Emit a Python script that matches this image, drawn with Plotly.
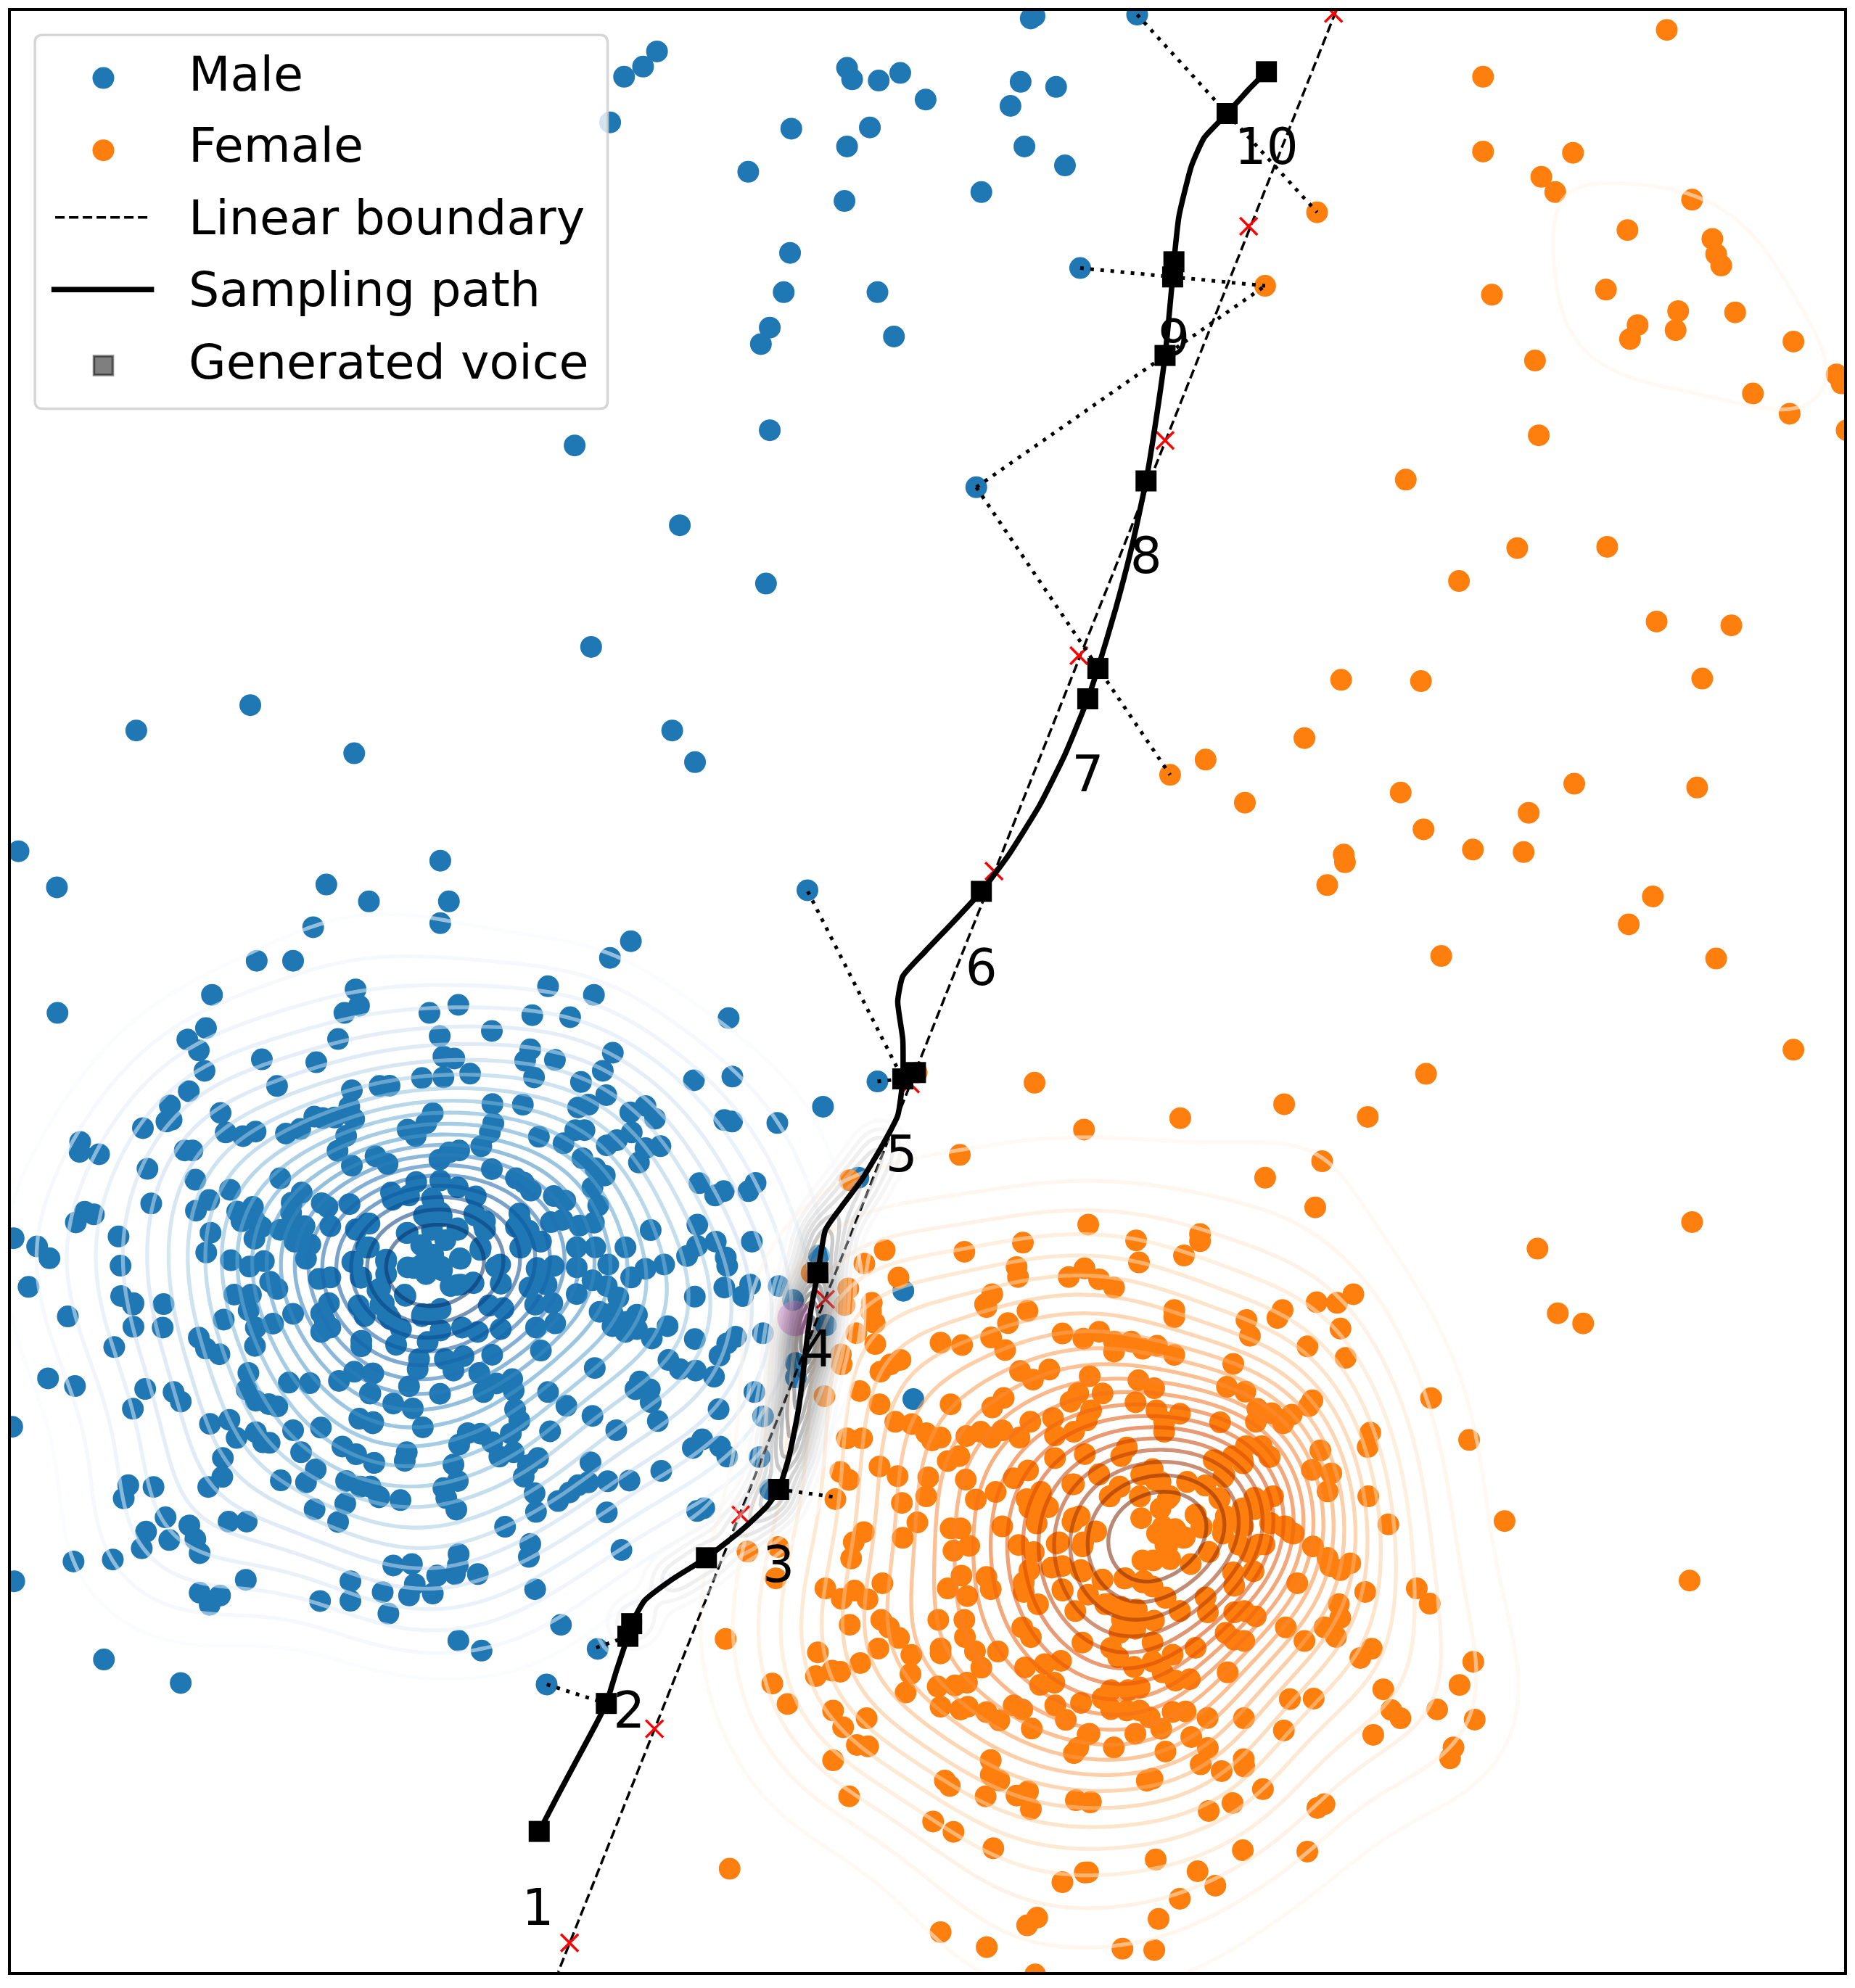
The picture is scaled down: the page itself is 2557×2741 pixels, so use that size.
import numpy as np
import plotly.graph_objects as go

# values, the axes have no ticks so the unit is arbitrary
# regions hold (x, y) as read from an enlarged crop, to_units() brings them together
male_a = [(62,59),(196,185),(1136,175),(1090,324),(893,441),(1020,441),(737,560),(198,623),(1238,541),(1250,598),(1199,623),(716,676),(651,716),(691,754),(711,825),(911,785),(1177,714),(1101,795),(964,878),(656,896),(590,946),(596,996),(578,1002),(496,1025),(767,972),(785,1040),(845,1053),(889,1037),(995,1044),(1045,1028),(1094,985),(1123,990),(1165,988),(1216,950),(1225,893),(1233,993),(1205,1052),(1175,1104),(1225,1156),(277,1073),(275,1108),(343,1116),(642,1103),(669,1103),(512,1167),(679,1205),(800,1240),(975,1200),(1050,1250),(1015,1285),(1013,1320),(1120,1287),(1140,1300),(1217,1290),(727,1276),(681,1313),(525,1288),(293,1317),(325,1326),(262,1354),(825,1316),(880,1300),(840,1350),(885,1345),(910,1370),(732,1390),(975,1380),(1010,1365),(1060,1367),(1150,1367),(1240,1380)]
male_b = [(269,92),(20,234),(299,234),(269,310),(934,373),(861,431),(645,530),(805,560),(1275,641),(231,623),(332,595),(590,631),(722,638),(449,686),(267,704),(583,750),(565,790),(669,787),(871,762),(836,825),(280,775),(318,782),(760,864),(373,835),(280,848),(205,850),(596,848),(57,878),(92,877),(1154,858),(1288,845),(848,910),(786,943),(750,953),(451,941),(557,943),(985,948),(932,970),(1018,992),(1260,997),(1287,1002),(1445,1007),(243,973),(220,1008),(155,1030),(183,1053),(454,1008),(442,1040),(412,1088),(613,1055),(740,1032),(772,1032),(699,1078),(937,1040),(885,1067),(850,1085),(1037,1088),(985,1095),(962,1145),(335,1103),(300,1110),(266,1135),(43,1123),(85,1150),(449,1168),(765,1130),(810,1165),(843,1190),(800,1232),(533,1200),(560,1215),(585,1243),(1173,1217),(1369,1216),(1258,1245),(1228,1260),(1344,1245),(665,1262),(705,1278),(820,1295),(185,1213),(269,1208),(330,1232),(393,1263),(97,1250),(160,1260),(103,1275),(240,1270),(240,1320),(212,1330),(270,1320),(390,1330),(425,1350),(425,1380),(22,1358),(545,1323),(655,1353),(695,1345),(755,1365),(805,1355),(533,1370),(1166,1362),(1003,1381),(330,1380),(240,1380),(155,1390),(1550,195)]
male_c = [(45,18),(127,47),(170,88),(97,188),(411,12),(418,114),(717,68),(803,95),(868,117),(918,98),(885,20),(1065,90),(1080,40),(1025,30),(1110,160),(1150,155),(1228,100),(1275,50),(1258,155),(940,170),(965,195),(815,215),(873,215),(865,270),(778,302),(420,220),(463,245),(461,250),(568,248),(463,327),(565,330),(234,291),(396,398),(691,365),(716,403),(763,423),(890,330),(950,316),(1020,282),(887,394),(1145,245),(1118,280),(1130,305),(1150,330),(1118,345),(1248,253),(1270,290),(1258,376),(1258,395),(165,507),(259,534),(504,544),(603,555),(628,588),(461,613),(864,488),(858,546),(890,585),(935,597),(965,605),(1005,522),(1078,524),(1180,516),(1233,484),(1297,490),(1288,560),(730,666),(798,652),(823,715),(890,695),(938,732),(915,730),(1020,688),(1117,679),(1251,648),(1298,664),(1192,745),(1240,772),(1303,802),(775,785),(1048,765),(773,851),(1099,825),(724,886),(977,863),(1065,870),(1205,865),(1255,885),(1290,885),(1320,922),(445,880),(533,886),(429,926),(1095,964),(1202,944),(1177,1008),(575,992),(658,1020),(795,1007),(858,1007),(507,1042),(679,1068),(588,1071),(492,1100),(694,1117),(254,1146),(391,1139),(855,1210),(694,1255),(765,1265),(729,1297),(1220,1215),(1114,1284),(1220,1283),(47,1215),(360,1488),(628,1570),(40,676)]
male_d = [(20,50),(80,100),(155,120),(205,110),(235,85),(275,130),(340,90),(340,180),(385,175),(305,185),(145,215),(410,50),(478,110),(480,175),(440,253),(488,262),(235,283),(270,265),(205,290),(270,340),(345,330),(400,345),(480,335),(450,425),(132,335),(115,390),(50,200),(60,250),(95,300),(550,50),(620,30),(605,125),(665,115),(640,180),(580,190),(745,50),(810,50),(745,120),(800,165),(850,185),(745,213),(890,225),(855,110),(935,155),(985,125),(1050,110),(915,50),(1130,80),(1165,45),(1230,30),(1356,30),(1265,85),(1270,115),(1260,190),(1325,220),(1350,180),(1157,222),(1450,185),(600,250),(660,245),(670,315),(603,330),(620,410),(825,275),(870,280),(955,285),(920,310),(870,325),(915,345),(955,335),(1007,368),(1062,325),(1157,370),(1300,362),(1270,385),(1243,428),(1395,350),(225,380),(195,440),(285,440),(350,430),(405,488),(315,480),(190,475),(160,535),(465,525),(520,510),(525,550),(420,555),(35,490),(25,560),(268,561),(105,595),(173,612),(530,615),(545,655),(645,555),(709,603),(800,638),(808,471),(1065,443),(1105,475),(1160,480),(1224,501),(965,518),(950,545),(1000,545),(1003,590),(1028,656),(883,688),(652,692),(1240,615),(1365,555),(1395,640),(35,660),(208,678),(365,698),(335,738),(410,700),(450,730),(515,700),(475,780),(525,765),(610,785),(575,810),(560,850),(152,765),(145,795),(38,802),(315,808),(1150,750),(1183,720),(1245,745),(1270,780),(1383,782),(793,800),(330,865),(280,890),(290,925),(325,965),(598,908),(603,973),(680,935),(720,905),(750,880),(785,870),(853,866),(929,864),(1040,830),(25,885),(55,920),(130,932),(850,975),(1165,970),(1190,960),(495,1025),(583,1085),(578,1130),(901,1106),(105,1160),(170,1155),(180,1225),(258,1195),(333,1120),(330,1160),(320,1190),(400,1190),(68,1253),(160,1265),(243,1258),(600,1243),(88,1328),(690,1367),(332,1422),(413,1457),(818,1451),(640,1575),(1420,895)]
male_e = [(325,205),(235,360),(350,448),(245,580),(245,630),(620,328),(655,706)]
male_core = [(590,290),(590,340),(555,350),(625,350),(480,420),(690,400),(640,450),(540,470),(590,510),(625,560),(560,590),(510,565),(700,525),(690,635),(755,625),(785,490),(850,560),(870,630),(395,530),(395,590),(370,650),(385,710),(400,755),(475,680),(545,755),(620,735),(820,720),(880,735),(760,340),(800,390),(315,480),(255,540),(290,605),(950,370),(985,410),(1035,455),(950,480),(1020,565),(320,380),(270,405)]
male_upper = [(816,12),(813,14),(897,11),(518,40),(507,52),(492,60),(668,53),(672,62),(693,63),(710,57),(730,78),(805,64),(833,68),(797,83),(481,96),(624,101),(686,100),(668,115),(808,115),(840,130),(590,135),(774,151),(666,158),(623,199),(852,211),(618,230),(692,230),(607,258),(600,271),(705,265),(607,339),(453,351),(770,384),(536,414),(604,460),(466,510),(197,556),(107,576),(279,594),(530,576),(548,601),(692,853),(649,873),(677,929)]

female_a = [(555,186),(484,233),(603,282),(833,192),(428,320),(415,378),(510,370),(507,400),(520,440),(456,476),(522,514),(402,550),(405,585),(750,509),(825,517),(610,569),(575,585),(540,610),(468,678),(345,696),(537,724),(785,724),(592,785),(650,793),(700,825),(720,850),(750,840),(423,843),(476,843),(840,835),(815,905),(775,922),(537,941),(600,975),(707,979),(400,960),(430,988),(838,987),(873,1056),(700,1045),(615,1068),(383,1055),(669,1136),(618,1190),(482,1170),(447,1205),(438,1262),(785,1157),(820,1157),(850,1218),(795,1235),(76,1238),(183,1222),(300,265)]
female_b = [(380,97),(1172,37),(152,160),(547,152),(770,130),(770,155),(714,205),(557,229),(130,245),(135,280),(367,250),(312,280),(418,288),(470,317),(45,340),(20,375),(25,385),(168,398),(680,395),(680,420),(1305,340),(1248,370),(1177,368),(1058,395),(1040,423),(932,430),(944,485),(1260,460),(1145,522),(1278,562),(100,441),(41,491),(90,535),(290,477),(363,495),(418,471),(470,505),(530,505),(570,530),(620,520),(470,540),(680,552),(886,583),(142,608),(187,638),(244,603),(385,626),(555,640),(610,668),(864,663),(928,680),(430,686),(345,685),(318,715),(45,735),(85,702),(545,717),(618,745),(700,757),(645,785),(645,820),(257,772),(390,745),(375,780),(178,785),(1162,710),(1150,730),(970,740),(1020,755),(1090,760),(1060,790),(965,785),(840,787),(5,820),(40,840),(80,815),(140,840),(264,833),(330,820),(1364,823),(1355,873),(1190,885),(515,875),(495,905),(264,912),(368,898),(985,870),(930,870),(885,905),(822,920),(920,930),(1013,908),(1160,953),(1228,965),(1215,1028),(855,970),(605,950),(575,968),(725,995),(788,1007),(120,982),(170,955),(330,1003),(418,968),(490,1012),(455,1045),(615,990),(560,1045),(838,1052),(57,1030),(215,1030),(165,1055),(175,1085),(240,1083),(960,1050),(1025,1045),(1357,1045),(665,1045),(350,1115),(325,1135),(408,1168),(80,1150),(200,1140),(755,1110),(860,1115),(850,1175),(775,1155),(1015,1140),(1068,1150),(1097,1175),(1427,1143),(640,1150),(690,1170),(660,1190),(620,1175),(712,1190),(655,1220),(960,1090),(920,1150),(940,1240),(995,1213),(1164,1220),(137,1215),(270,1210),(190,1240),(360,1220),(1215,1260)]
female_c = [(175,70),(348,107),(405,145),(450,115),(495,147),(547,88),(775,107),(823,60),(843,135),(910,65),(925,110),(1040,85),(1040,120),(1090,165),(1060,40),(1175,110),(1245,45),(1220,190),(1175,25),(433,240),(543,222),(570,250),(605,288),(533,327),(742,222),(833,222),(835,285),(870,337),(1035,250),(1065,285),(1245,305),(750,327),(750,345),(950,338),(322,341),(470,380),(648,350),(892,397),(1045,396),(1113,384),(1170,372),(0,292),(315,428),(372,408),(400,412),(645,420),(1097,460),(1147,452),(163,455),(628,488),(740,466),(800,462),(842,452),(216,530),(750,540),(820,550),(845,540),(910,560),(955,590),(1005,535),(1035,550),(1150,535),(1240,526),(1187,588),(375,554),(492,582),(410,615),(1068,620),(458,680),(497,685),(1263,642),(1230,690),(1215,710),(375,736),(925,735),(925,790),(955,810),(765,810),(782,830),(907,868),(1015,865),(1055,850),(1065,915),(431,868),(1222,882),(1272,890),(724,960),(795,998),(934,1058),(1175,1182),(1253,1147),(14,1133),(750,1365),(911,1420),(1052,1340),(1087,1312),(1080,1520)]
female_d = [(50,75),(130,70),(190,85),(225,100),(0,130),(270,140),(320,190),(60,165),(115,175),(170,185),(410,140),(418,195),(510,195),(545,190),(585,210),(690,250),(755,300),(230,225),(120,255),(110,270),(165,255),(875,165),(880,215),(825,250),(865,285),(480,270),(510,295),(545,300),(730,88),(967,120),(880,40),(915,15),(845,25),(225,305),(80,325),(105,360),(160,395),(225,375),(295,350),(375,325),(260,415),(305,445),(355,440),(990,328),(950,362),(1147,107),(1192,163),(487,415),(80,480),(140,480),(180,470),(50,510),(80,550),(135,555),(180,555),(215,580),(295,560),(340,558),(704,513),(787,511),(1030,477),(1058,553),(1090,583),(1218,551),(1296,461),(1344,376),(1349,588),(417,582),(544,583),(683,628),(995,644),(5,640),(165,640),(255,622),(360,652),(418,692),(1275,690),(1263,730),(90,690),(270,705),(393,752),(466,777),(543,733),(545,760),(225,805),(205,812),(610,843),(825,898),(800,912),(10,890),(504,894),(421,923),(540,1067),(765,1072),(236,1101),(0,1148),(382,1144),(444,1197),(320,1245),(246,1319),(120,1428),(231,1433)]
female_core = [(625,385),(660,385),(620,450),(700,420),(640,510),(570,515),(525,515),(725,530),(520,340),(600,300),(630,260),(515,250),(745,325),(770,375),(800,480),(860,370),(940,300),(925,450),(985,560),(905,620),(900,565),(360,595),(450,590),(530,600),(620,670),(680,725),(385,695),(440,760),(500,730),(270,555),(195,640),(150,545),(1005,450),(1110,375),(1055,360),(1140,400),(1020,285),(995,260),(845,260),(785,205),(710,190),(565,155),(520,160),(600,190),(430,210),(390,250),(345,160),(235,200),(240,340),(330,395),(280,440),(180,440),(820,100),(860,170),(940,100),(1050,85)]
female_upper = [(1315,23),(1170,60),(1170,119),(1241,120),(1216,139),(1227,151),(1039,167),(1335,157),(1284,181),(1351,188),(1354,200),(1358,209),(998,225),(1177,232),(1267,228),(1324,245),(1369,246),(1292,256),(1322,260),(1286,267),(1415,269),(1211,284),(1449,295),(1453,302),(1383,310),(1412,326),(1214,343),(1457,339),(1109,378),(1197,432),(1268,431),(1151,458),(1307,490),(1366,493),(1058,536),(1121,537),(1343,535),(1029,582),(951,599),(923,611),(982,633),(1105,625),(1242,618),(1339,621),(1206,641),(1123,654),(1162,670),(1202,672),(1060,674),(1061,680),(1047,698),(1304,707),(1285,729),(1137,754),(1354,756),(1415,828),(1125,847),(723,846),(816,854),(1013,871),(931,882),(1079,881),(855,891),(1043,916),(757,911),(998,929),(670,931),(1335,964),(1213,985),(1229,1036),(1249,1044),(1129,1103),(1159,1136),(1187,1200),(1333,1247)]

path_x = [425,440,455,470,478,486,495,498,508,530,557,585,605,614,622,630,636,640,645,651,665,680,695,708,712,712,708,712,730,752,774,795,820,840,858,866,880,893,904,912,919,925,926,930,940,950,968,985,999]
path_y = [1445,1416,1388,1360,1344,1318,1291,1281,1263,1246,1229,1207,1188,1175,1150,1110,1060,1030,1004,970,950,930,905,880,851,820,790,770,750,727,703,675,635,595,551,527,480,430,379,330,280,218,206,170,130,108,89,70,56]
voice_x = [425,478,495,498,557,614,645,712,722,774,858,866,904,919,925,926,968,999]
voice_y = [1445,1344,1291,1281,1229,1175,1004,851,846,703,551,527,379,280,218,206,89,56]
step_labels = ["1","2","3","4","5","6","7","8","9","10"]
step_x = [424,496,614,645,711,774,858,904,926,999]
step_y = [1509,1353,1238,1068,914,767,614,442,270,119]
boundary_x = [1054,440]
boundary_y = [8,1556]
cross_x = [1052,985,919,851,784,718,651,584,516,449]
cross_y = [10,178,347,517,687,855,1025,1195,1364,1533]
neighbour_x = [897,968,None,968,1039,None,852,925,998,None,770,919,998,None,770,866,923,None,637,712,None,692,712,None,614,658,None,431,478,None,470,495]
neighbour_y = [11,89,None,89,167,None,211,218,225,None,384,280,225,None,384,527,611,None,703,851,None,853,851,None,1175,1181,None,1329,1344,None,1300,1291]
sample_x = [500,530,557,585,605,614,620,622,626,628,630,632,634,636,637,639,640,642,645,648,651,665,680,695]
sample_y = [1280,1246,1229,1207,1188,1175,1150,1140,1120,1110,1095,1080,1070,1060,1050,1040,1030,1018,1004,985,970,950,930,905]
source_x = [627]
source_y = [1040]
legend_names = ["Male","Female","Linear boundary","Sampling path","Generated voice"]
legend_text_y = [58,114,171,228,285]

BLUE = "#1f77b4"
ORANGE = "#ff7f0e"
FONT = "DejaVu Sans"
X_RANGE = [8,1455]
Y_RANGE = [1556,8]
UNIT = 1463/2557


def to_units(points, left, top, width=620, height=620, shown=1568):
    a = np.array(points, dtype=float)
    return np.c_[(left + a[:,0]*width/shown)*UNIT, (top + a[:,1]*height/shown)*UNIT]


male = np.vstack([to_units(male_a,0,1150), to_units(male_b,500,1150), to_units(male_c,0,1700),
                  to_units(male_d,500,1700), to_units(male_e,1000,1650),
                  to_units(male_core,400,1560,400,400,1200), np.array(male_upper,dtype=float)])
female = np.vstack([to_units(female_a,1000,1650), to_units(female_b,1350,1650),
                    to_units(female_c,1000,2150,620,591), to_units(female_d,1500,2150,620,590),
                    to_units(female_core,1400,1980,400,400,1200), np.array(female_upper,dtype=float)])

grid_x = np.linspace(X_RANGE[0],X_RANGE[1],300)
grid_y = np.linspace(Y_RANGE[1],Y_RANGE[0],320)
gx, gy = np.meshgrid(grid_x,grid_y)


def kde(points, bw):
    z = np.zeros_like(gx)
    for px, py in points:
        z += np.exp(-0.5*((gx-px)**2+(gy-py)**2)/bw**2)
    return z/z.max()


def level_at(z, thresh):
    s = np.sort(z.ravel())
    return s[np.searchsorted(np.cumsum(s)/s.sum(),thresh)]


def contour(z, scale, xa, ya, n=21, thresh=0.14, opacity=0.55):
    start = level_at(z,thresh)
    return go.Contour(x=grid_x,y=grid_y,z=z,xaxis=xa,yaxis=ya,colorscale=scale,zmin=start,zmax=0.95,
                      contours=dict(coloring="lines",start=start,end=0.95,size=(0.95-start)/(n-1)),
                      line=dict(width=5.3,smoothing=1),opacity=opacity,showscale=False,hoverinfo="skip",showlegend=False)


fig = go.Figure()
fig.add_trace(go.Scatter(x=male[:,0],y=male[:,1],mode="markers",name="Male",marker=dict(color=BLUE,size=30)))
fig.add_trace(go.Scatter(x=female[:,0],y=female[:,1],mode="markers",name="Female",marker=dict(color=ORANGE,size=30)))

fig.add_trace(contour(kde(male,60),"Blues","x2","y2"))
fig.add_trace(contour(kde(female,60),"Oranges","x2","y2"))
fig.add_trace(go.Scatter(x=source_x,y=source_y,mode="markers",xaxis="x2",yaxis="y2",
                         marker=dict(color="orchid",size=49,opacity=0.55)))
fig.add_trace(go.Scatter(x=boundary_x,y=boundary_y,mode="lines",xaxis="x2",yaxis="y2",
                         line=dict(color="black",width=3.5,dash="13px,6px")))
fig.add_trace(go.Scatter(x=cross_x,y=cross_y,mode="markers",xaxis="x2",yaxis="y2",
                         marker=dict(symbol="x-thin",size=24,line=dict(color="red",width=3.5))))

samples = np.c_[sample_x,sample_y].astype(float)
fig.add_trace(contour(kde(samples,16),"Greys","x3","y3",n=14,thresh=0.03,opacity=0.45))
fig.add_trace(go.Scatter(x=neighbour_x,y=neighbour_y,mode="lines",xaxis="x3",yaxis="y3",
                         line=dict(color="black",width=5,dash="5px,9px")))
fig.add_trace(go.Scatter(x=path_x,y=path_y,mode="lines",xaxis="x3",yaxis="y3",
                         line=dict(color="black",width=7.5,shape="spline",smoothing=0.5)))
fig.add_trace(go.Scatter(x=voice_x,y=voice_y,mode="markers",xaxis="x3",yaxis="y3",
                         marker=dict(symbol="square",color="black",size=29)))
fig.add_trace(go.Scatter(x=step_x,y=step_y,text=step_labels,mode="text",xaxis="x3",yaxis="y3",
                         textposition="middle center",textfont=dict(family=FONT,size=69,color="black")))

# legend drawn by hand, plotly caps legend markers well below the size used here
fig.add_trace(go.Scatter(x=[81],y=[61],mode="markers",xaxis="x4",yaxis="y4",marker=dict(color=BLUE,size=30)))
fig.add_trace(go.Scatter(x=[81],y=[118],mode="markers",xaxis="x4",yaxis="y4",marker=dict(color=ORANGE,size=30)))
fig.add_trace(go.Scatter(x=[43,119],y=[171,171],mode="lines",xaxis="x4",yaxis="y4",
                         line=dict(color="black",width=3.5,dash="13px,6px")))
fig.add_trace(go.Scatter(x=[40,121],y=[228,228],mode="lines",xaxis="x4",yaxis="y4",line=dict(color="black",width=7.5)))
fig.add_trace(go.Scatter(x=[81],y=[288],mode="markers",xaxis="x4",yaxis="y4",
                         marker=dict(symbol="square",color="rgba(0,0,0,0.5)",size=26,line=dict(color="rgba(0,0,0,0.5)",width=3.5))))

hidden = dict(domain=[0,1],visible=False,showgrid=False,zeroline=False)
frame = dict(domain=[0,1],showgrid=False,zeroline=False,showticklabels=False,ticks="",
             showline=True,mirror=True,linecolor="black",linewidth=3.5)
fig.update_layout(
    width=2557,height=2741,autosize=False,showlegend=False,
    margin=dict(l=15,r=15,t=15,b=22,autoexpand=False),
    paper_bgcolor="white",plot_bgcolor="rgba(0,0,0,0)",
    xaxis=dict(hidden,range=X_RANGE,anchor="y"),yaxis=dict(hidden,range=Y_RANGE,anchor="x"),
    xaxis2=dict(hidden,range=X_RANGE,anchor="y2"),yaxis2=dict(hidden,range=Y_RANGE,anchor="x2"),
    xaxis3=dict(hidden,range=X_RANGE,anchor="y3"),yaxis3=dict(hidden,range=Y_RANGE,anchor="x3"),
    xaxis4=dict(frame,range=X_RANGE,anchor="y4"),yaxis4=dict(frame,range=Y_RANGE,anchor="x4"),
    shapes=[dict(type="path",xref="x4",yref="y4",layer="below",
                 path="M 33 27 L 473 27 Q 479 27 479 33 L 479 316 Q 479 322 473 322 L 33 322 Q 27 322 27 316 L 27 33 Q 27 27 33 27 Z",
                 fillcolor="rgba(255,255,255,0.8)",line=dict(color="rgba(204,204,204,0.8)",width=3.5))],
    annotations=[dict(x=147,y=y,xref="x4",yref="y4",text=t,showarrow=False,xanchor="left",yanchor="middle",
                      font=dict(family=FONT,size=66.7,color="black")) for t,y in zip(legend_names,legend_text_y)],
)

fig.write_html("out.html",config={"displayModeBar":False},post_script="document.body.style.margin='0';")
